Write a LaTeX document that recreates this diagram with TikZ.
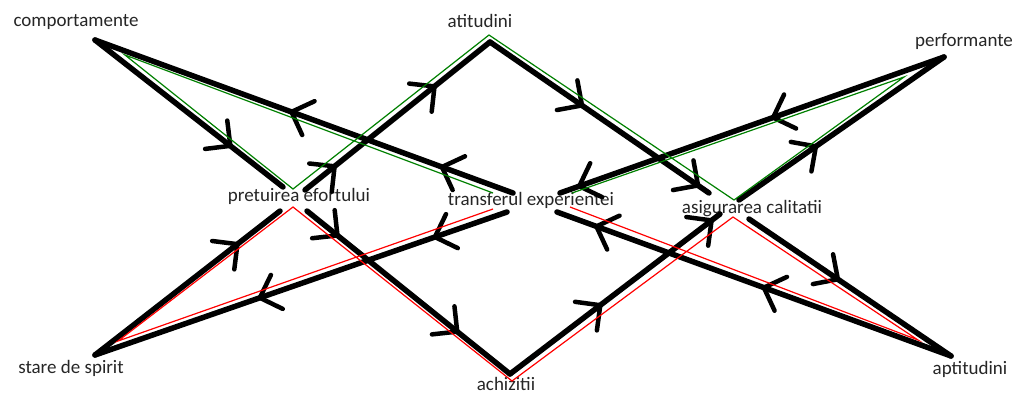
\documentclass[tikz,border=0pt]{standalone}
\usepackage{fontspec}
\setmainfont{Carlito}
\usetikzlibrary{decorations.markings}

\tikzset{
    flow/.style={line width=5.5pt, line cap=round},
    chev/.style={postaction={decorate, decoration={markings,
        mark=at position #1 with {\draw[line width=4.5pt, line cap=round] (-18pt,18pt) -- (0pt,0pt) -- (-18pt,-18pt);}}}},
    word/.style={anchor=mid, inner sep=0pt, text=black!85, font=\fontsize{19}{22}\selectfont},
    greenline/.style={green!50!black, line width=1.2pt},
    redline/.style={red, line width=1.2pt},
}

\begin{document}
\begin{tikzpicture}[x=1pt, y=-1pt]

                    \useasboundingbox (0,0) rectangle (1016,394);

                    % labels
                    \node[word] (comp)   at (76,24)   {comportamente};
                    \node[word] (atit)   at (480,25)  {atitudini};
                    \node[word] (perf)   at (964,44)  {performante};
                    \node[word] (pret)   at (299,199) {pretuirea efortului};
                    \node[word] (transf) at (531,203) {transferul experientei};
                    \node[word] (asig)   at (752,211) {asigurarea calitatii};
                    \node[word] (stare)  at (71,371)  {stare de spirit};
                    \node[word] (achiz)  at (506,388) {achizitii};
                    \node[word] (apt)    at (970,372) {aptitudini};

                    % ends of the black lines
                    \coordinate (c1) at (95,40);
                    \coordinate (a1) at (490,42);
                    \coordinate (p1) at (944,57);
                    \coordinate (s1) at (95,355);
                    \coordinate (h1) at (510,374);
                    \coordinate (t1) at (951,356);
                    \coordinate (pA) at (283,187);  \coordinate (pB) at (305,190);
                    \coordinate (pC) at (280,211);  \coordinate (pD) at (307,211);
                    \coordinate (tA) at (513,193);  \coordinate (tB) at (560,193);
                    \coordinate (tC) at (507,212);  \coordinate (tD) at (557,212);
                    \coordinate (gA) at (709,193);  \coordinate (gB) at (739,200);
                    \coordinate (gC) at (720,214);  \coordinate (gD) at (749,219);

                    \draw[flow, chev=0.72] (c1) -- (pA);
                    \draw[flow, chev=0.17, chev=0.53] (tA) -- (c1);
                    \draw[flow, chev=0.16, chev=0.70] (pB) -- (a1);
                    \draw[flow, chev=0.42, chev=0.95] (a1) -- (gA);
                    \draw[flow, chev=0.445, chev=0.95] (p1) -- (tB);
                    \draw[flow, chev=0.375] (gB) -- (p1);

                    \draw[flow, chev=0.77] (s1) -- (pC);
                    \draw[flow, chev=0.175, chev=0.60] (tC) -- (s1);
                    \draw[flow, chev=0.15, chev=0.74] (pD) -- (h1);
                    \draw[flow, chev=0.43, chev=0.96] (h1) -- (gC);
                    \draw[flow, chev=0.44] (gD) -- (t1);
                    \draw[flow, chev=0.475, chev=0.90] (t1) -- (tD);

                    % thin outlines
                    \draw[greenline] (572,193) -- (904,77) -- (734,200) -- (489,35) -- (293,189) -- (125,55) -- (493,193);
                    \draw[redline] (570,207) -- (918,340) -- (733,217) -- (512,381) -- (293,207) -- (118,341) -- (493,209);
                \end{tikzpicture}
\end{document}
